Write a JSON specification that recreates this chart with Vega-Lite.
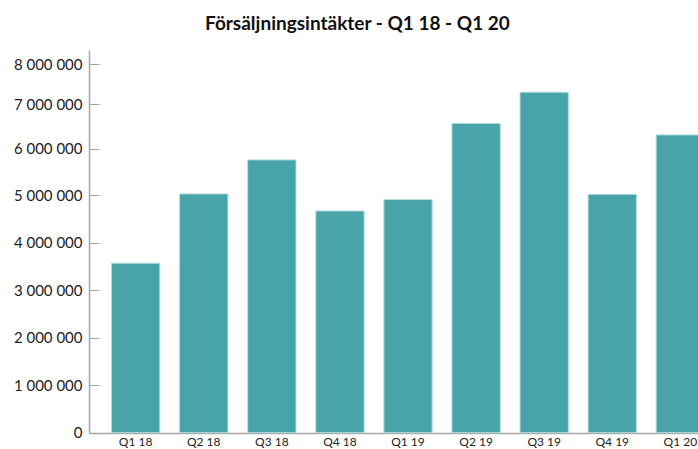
{
  "$schema": "https://vega.github.io/schema/vega-lite/v6.json",
  "autosize": {"type": "none"},
  "width": 638,
  "height": 383,
  "padding": {"left": 89, "top": 50, "right": 0, "bottom": 16},
  "background": "white",
  "title": {
    "text": "Försäljningsintäkter - Q1 18 - Q1 20",
    "anchor": "start",
    "frame": "group",
    "dx": 116,
    "font": "Lato",
    "fontSize": 19,
    "fontWeight": "bold",
    "color": "#111111",
    "offset": 16
  },
  "data": {
    "values": [
      {"kvartal": "Q1 18", "intakter": 3570000},
      {"kvartal": "Q2 18", "intakter": 5030000},
      {"kvartal": "Q3 18", "intakter": 5760000},
      {"kvartal": "Q4 18", "intakter": 4670000},
      {"kvartal": "Q1 19", "intakter": 4910000},
      {"kvartal": "Q2 19", "intakter": 6570000},
      {"kvartal": "Q3 19", "intakter": 7300000},
      {"kvartal": "Q4 19", "intakter": 5020000},
      {"kvartal": "Q1 20", "intakter": 6310000}
    ]
  },
  "mark": {"type": "bar", "color": "#48A4A8", "stroke": "#b3dcdd", "strokeWidth": 1},
  "encoding": {
    "x": {
      "field": "kvartal",
      "type": "nominal",
      "sort": null,
      "scale": {"paddingInner": 0.29, "paddingOuter": 0.33},
      "axis": {
        "title": null,
        "labelAngle": 0,
        "ticks": false,
        "labelPadding": 3,
        "domainColor": "#a6a6a6",
        "domainWidth": 1.5,
        "labelFont": "Lato",
        "labelFontSize": 12,
        "labelColor": "#222222"
      }
    },
    "y": {
      "field": "intakter",
      "type": "quantitative",
      "scale": {
        "type": "linear",
        "domain": [0, 5000000, 6000000, 7000000, 8000000, 8350000],
        "range": [382.7, 145.3, 98.7, 54.3, 14, 0],
        "nice": false
      },
      "axis": {
        "title": null,
        "values": [0, 1000000, 2000000, 3000000, 4000000, 5000000, 6000000, 7000000, 8000000],
        "grid": false,
        "tickSize": -10,
        "tickColor": "#a6a6a6",
        "tickWidth": 1,
        "labelPadding": 17,
        "domainColor": "#a6a6a6",
        "domainWidth": 1.5,
        "labelFont": "Lato",
        "labelFontSize": 15,
        "labelColor": "#222222",
        "labelExpr": "replace(format(datum.value, ','), /,/g, ' ')"
      }
    }
  },
  "config": {"view": {"stroke": null}}
}
